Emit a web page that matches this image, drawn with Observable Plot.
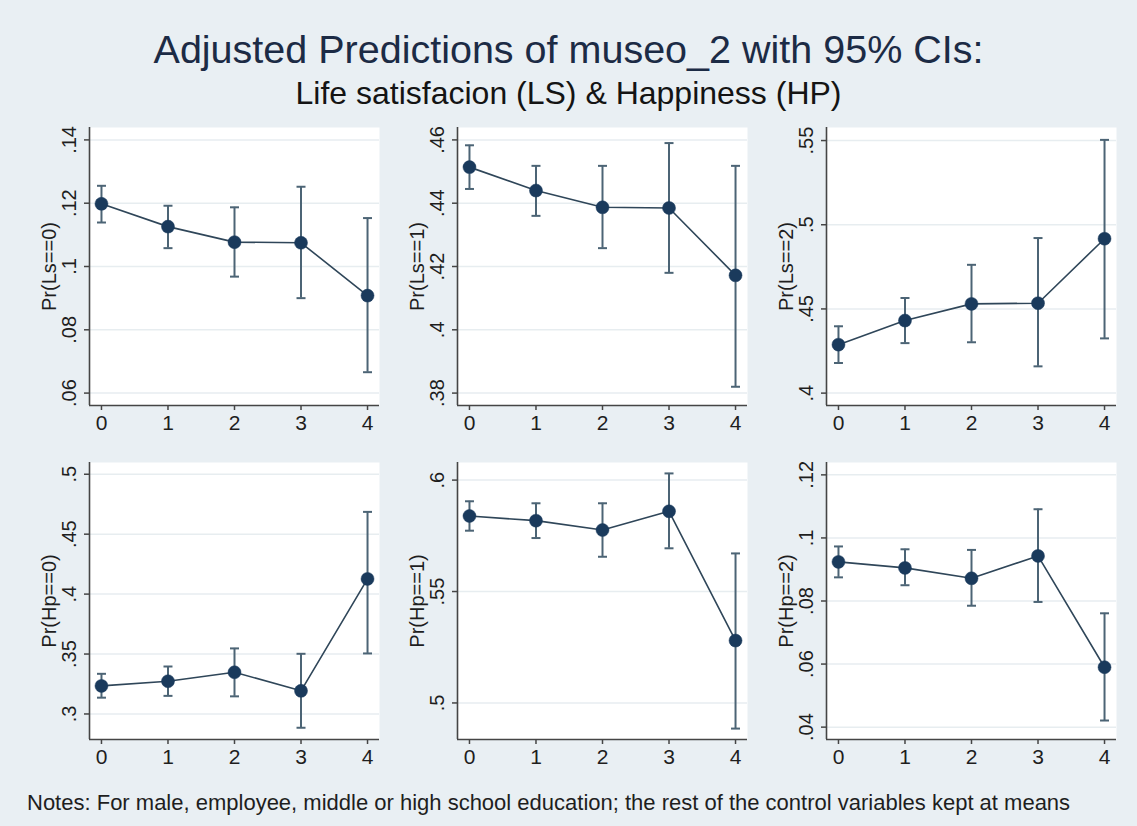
<!DOCTYPE html>
<html>
<head>
<meta charset="utf-8">
<script src="https://cdn.jsdelivr.net/npm/d3@7"></script>
<script src="https://cdn.jsdelivr.net/npm/@observablehq/plot@0.6"></script>
<style>
  html, body { margin: 0; padding: 0; background: #e9eff3; }
  #chart { position: relative; width: 1137px; height: 826px; background: #e9eff3; font-family: "Liberation Sans", Arial, sans-serif; overflow: hidden; }
  #title { position: absolute; left: 0; width: 1137px; top: 26px; text-align: center; font-size: 39.5px; color: #1c2b45; line-height: 46px; }
  #subtitle { position: absolute; left: 0; width: 1137px; top: 75px; text-align: center; font-size: 32px; color: #141414; line-height: 36px; }
  #notes { position: absolute; left: 27px; top: 790px; font-size: 22px; color: #1e1e1e; white-space: nowrap; }
  .panel { position: absolute; }
</style>
</head>
<body>
<div id="chart">
  <div id="title">Adjusted Predictions of museo_2 with 95% CIs:</div>
  <div id="subtitle">Life satisfacion (LS) &amp; Happiness (HP)</div>
  <div id="notes">Notes: For male, employee, middle or high school education; the rest of the control variables kept at means</div>
</div>
<script>
// ---- data ----
const xLevels = [0, 1, 2, 3, 4];
const panelLabels = ["Pr(Ls==0)", "Pr(Ls==1)", "Pr(Ls==2)", "Pr(Hp==0)", "Pr(Hp==1)", "Pr(Hp==2)"];

const ls0Est = [0.1198, 0.1126, 0.1077, 0.1075, 0.0908];
const ls0Lo  = [0.1139, 0.1058, 0.0968, 0.0900, 0.0666];
const ls0Hi  = [0.1255, 0.1192, 0.1187, 0.1252, 0.1153];

const ls1Est = [0.4514, 0.4440, 0.4387, 0.4385, 0.4172];
const ls1Lo  = [0.4445, 0.4360, 0.4258, 0.4180, 0.3820];
const ls1Hi  = [0.4583, 0.4518, 0.4518, 0.4590, 0.4518];

const ls2Est = [0.4288, 0.4431, 0.4530, 0.4534, 0.4917];
const ls2Lo  = [0.4179, 0.4297, 0.4302, 0.4159, 0.4325];
const ls2Hi  = [0.4397, 0.4565, 0.4762, 0.4921, 0.5504];

const hp0Est = [0.3234, 0.3273, 0.3348, 0.3193, 0.4127];
const hp0Lo  = [0.3136, 0.3151, 0.3147, 0.2885, 0.3505];
const hp0Hi  = [0.3335, 0.3396, 0.3547, 0.3502, 0.4686];

const hp1Est = [0.5839, 0.5818, 0.5776, 0.5860, 0.5280];
const hp1Lo  = [0.5773, 0.5740, 0.5656, 0.5694, 0.4885];
const hp1Hi  = [0.5905, 0.5896, 0.5896, 0.6030, 0.5671];

const hp2Est = [0.0924, 0.0905, 0.0872, 0.0943, 0.0590];
const hp2Lo  = [0.0875, 0.0850, 0.0785, 0.0797, 0.0421];
const hp2Hi  = [0.0973, 0.0964, 0.0962, 0.1091, 0.0761];

const ls0Ticks = [0.06, 0.08, 0.10, 0.12, 0.14];
const ls1Ticks = [0.38, 0.40, 0.42, 0.44, 0.46];
const ls2Ticks = [0.40, 0.45, 0.50, 0.55];
const hp0Ticks = [0.30, 0.35, 0.40, 0.45, 0.50];
const hp1Ticks = [0.50, 0.55, 0.60];
const hp2Ticks = [0.04, 0.06, 0.08, 0.10, 0.12];

// ---- styling ----
const NAVY = "#1a3a5c";
const LINE = "#2f4659";
const CI = "#4c6475";
const AXIS = "#454545";
const GRID = "#e7edf0";
const FONT = "'Liberation Sans', Arial, sans-serif";

const stataFmt = d => String(+d.toFixed(4)).replace(/^0\./, ".").replace(/^-0\./, "-.");

const capSymbol = {
  draw(context, size) {
    const r = Math.sqrt(size / Math.PI);
    context.moveTo(-r, 0);
    context.lineTo(r, 0);
  }
};

const ML = 85, MR = 6, MT = 8, MB = 42, PW = 290;
const colAxisX = [89, 457, 826];
const rowTop = [127, 462];
const rowH = [278, 277];

const panels = [
  {label: panelLabels[0], est: ls0Est, lo: ls0Lo, hi: ls0Hi, ticks: ls0Ticks},
  {label: panelLabels[1], est: ls1Est, lo: ls1Lo, hi: ls1Hi, ticks: ls1Ticks},
  {label: panelLabels[2], est: ls2Est, lo: ls2Lo, hi: ls2Hi, ticks: ls2Ticks},
  {label: panelLabels[3], est: hp0Est, lo: hp0Lo, hi: hp0Hi, ticks: hp0Ticks},
  {label: panelLabels[4], est: hp1Est, lo: hp1Lo, hi: hp1Hi, ticks: hp1Ticks},
  {label: panelLabels[5], est: hp2Est, lo: hp2Lo, hi: hp2Hi, ticks: hp2Ticks}
];

const chart = document.getElementById("chart");

panels.forEach((p, i) => {
  const row = Math.floor(i / 3), col = i % 3;
  const data = xLevels.map((x, j) => ({x, est: p.est[j], lo: p.lo[j], hi: p.hi[j]}));
  const tmin = d3.min(p.ticks), tmax = d3.max(p.ticks);
  const pad = 0.049 * (tmax - tmin);
  const yDom = [Math.min(tmin, d3.min(p.lo)) - pad, Math.max(tmax, d3.max(p.hi)) + pad];
  const xDom = [-0.18, 4.18];

  const svg = Plot.plot({
    width: ML + PW + MR,
    height: MT + rowH[row] + MB,
    marginLeft: ML, marginRight: MR, marginTop: MT, marginBottom: MB,
    style: {background: "transparent", overflow: "visible", fontFamily: FONT, color: "#1e1e1e"},
    x: {domain: xDom},
    y: {domain: yDom},
    marks: [
      Plot.frame({fill: "white", stroke: null}),
      Plot.gridY(p.ticks, {stroke: GRID, strokeOpacity: 1, strokeWidth: 1.5}),
      Plot.ruleX([xDom[0]], {stroke: AXIS, strokeWidth: 1.6}),
      Plot.ruleY([yDom[0]], {stroke: AXIS, strokeWidth: 1.6}),
      Plot.axisX({ticks: xLevels, tickSize: 5, tickPadding: 5, fontSize: 21, label: null, stroke: AXIS, strokeWidth: 1.5, tickFormat: d => String(d)}),
      Plot.axisY({ticks: p.ticks, tickSize: 5, tickPadding: 9, tickRotate: -90, fontSize: 20, label: null, stroke: AXIS, strokeWidth: 1.5, tickFormat: stataFmt}),
      Plot.text([p.label], {frameAnchor: "left", textAnchor: "middle", lineAnchor: "middle", rotate: -90, dx: -40, fontSize: 20, text: d => d, fill: "#1e1e1e"}),
      Plot.ruleX(data, {x: "x", y1: "lo", y2: "hi", stroke: CI, strokeWidth: 2}),
      Plot.dot(data, {x: "x", y: "hi", symbol: capSymbol, r: 4.5, stroke: CI, strokeWidth: 2, fill: "none"}),
      Plot.dot(data, {x: "x", y: "lo", symbol: capSymbol, r: 4.5, stroke: CI, strokeWidth: 2, fill: "none"}),
      Plot.line(data, {x: "x", y: "est", stroke: LINE, strokeWidth: 1.6}),
      Plot.dot(data, {x: "x", y: "est", r: 6.5, fill: NAVY, stroke: NAVY, strokeWidth: 0.5})
    ]
  });
  svg.classList.add("panel");
  svg.style.left = (colAxisX[col] - ML) + "px";
  svg.style.top = (rowTop[row] - MT) + "px";
  svg.style.maxWidth = "none";
  chart.appendChild(svg);
});
</script>
</body>
</html>
